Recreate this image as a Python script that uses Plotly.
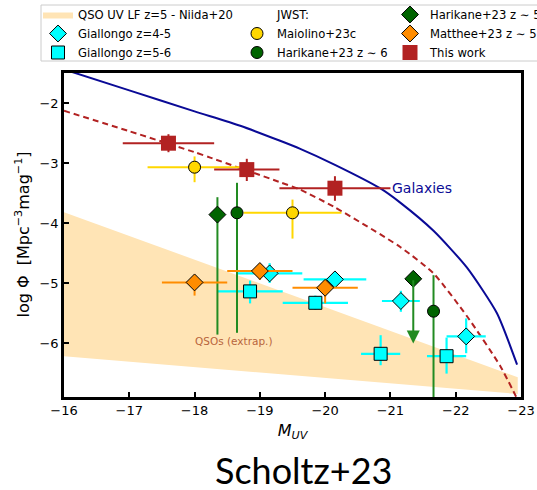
import plotly.graph_objects as go

# ---- Data -------------------------------------------------------------
# QSO UV LF band (Niida+20), upper and lower edges
band_M = [-16.0, -22.95]
band_upper = [-3.82, -6.57]
band_lower = [-6.22, -6.85]

# Galaxy UV luminosity function (solid curve)
gal_M = [-16.0, -17.0, -18.0, -18.7, -19.31, -19.61, -20.15, -20.84, -21.15,
         -21.66, -22.17, -22.63, -22.94]
gal_phi = [-1.44, -1.79, -2.14, -2.38, -2.63, -2.76, -3.03, -3.42, -3.66,
           -4.13, -4.74, -5.50, -6.36]

# Extrapolated QSO / AGN curve (dashed)
qso_M = [-16.0, -17.0, -18.0, -18.24, -19.31, -19.61, -20.15, -21.15, -21.66,
         -22.17, -22.68, -22.95]
qso_phi = [-2.13, -2.47, -2.82, -2.91, -3.32, -3.44, -3.74, -4.40, -4.84,
           -5.55, -6.38, -6.95]

# Giallongo z=4-5
g45_M = [-19.15, -20.15, -21.16, -22.16]
g45_phi = [-4.84, -4.94, -5.30, -5.89]
g45_xerr = [0.5, 0.48, 0.29, 0.3]
g45_yerr_up = [0.17, 0.12, 0.17, 0.30]
g45_yerr_dn = [0.16, 0.12, 0.18, 0.28]

# Giallongo z=5-6
g56_M = [-18.85, -19.85, -20.85, -21.86]
g56_phi = [-5.14, -5.33, -6.18, -6.22]
g56_xerr = [0.5, 0.5, 0.3, 0.3]
g56_yerr_up = [0.18, 0.12, 0.31, 0.31]
g56_yerr_dn = [0.20, 0.12, 0.19, 0.29]

# Maiolino+23c
mai_M = [-18.0, -19.5]
mai_phi = [-3.07, -3.83]
mai_xerr = [0.72, 0.75]
mai_yerr_up = [0.18, 0.22]
mai_yerr_dn = [0.25, 0.43]

# Harikane+23 z~6
h6_M = [-18.65, -21.66]
h6_phi = [-3.83, -5.47]
h6_yerr_up = [0.50, 0.60]
h6_yerr_dn = [2.00, 2.00]

# Harikane+23 z~5 (second point is an upper limit)
h5_M = [-18.35, -21.35]
h5_phi = [-3.86, -4.93]
h5_yerr_up = [0.29, 0.0]
h5_yerr_dn = [2.00, 0.0]
h5_limit_M = [-21.35]
h5_limit_phi = [-4.93]
h5_limit_tip = [-6.01]

# Matthee+23 z~5
mat_M = [-18.0, -19.0, -20.0]
mat_phi = [-4.99, -4.80, -5.08]
mat_xerr = [0.5, 0.5, 0.5]
mat_yerr_up = [0.12, 0.10, 0.12]
mat_yerr_dn = [0.22, 0.15, 0.26]

# This work
tw_M = [-17.6, -18.8, -20.15]
tw_phi = [-2.67, -3.11, -3.42]
tw_xerr_plus = [0.7, 0.5, 0.85]
tw_xerr_minus = [0.7, 0.5, 0.85]
tw_yerr_up = [0.15, 0.18, 0.20]
tw_yerr_dn = [0.15, 0.19, 0.21]

FONT = "DejaVu Sans"
W, H = 537, 490
ML, MR, MT, MB = 64, 16, 73, 93
PW, PH = W - ML - MR, H - MT - MB


def px_to_paper(px, py):
    """Pixel position on the page -> paper coordinates of the plot area."""
    return (px - ML) / PW, (H - MB - py) / PH


fig = go.Figure()

# QSO band
fig.add_trace(go.Scatter(
    x=band_M + band_M[::-1], y=band_upper + band_lower[::-1],
    fill="toself", fillcolor="#FFE4B5", mode="lines",
    line=dict(width=0, color="#FFE4B5"),
    name="QSO UV LF z=5 - Niida+20", legend="legend", hoverinfo="skip"))

# Model curves
fig.add_trace(go.Scatter(
    x=gal_M, y=gal_phi, mode="lines",
    line=dict(color="#0a0a96", width=2, shape="spline", smoothing=0.6),
    showlegend=False))
fig.add_trace(go.Scatter(
    x=qso_M, y=qso_phi, mode="lines",
    line=dict(color="#B22222", width=2, dash="6px,4px", shape="spline", smoothing=0.6),
    showlegend=False))


def err(plus, minus, color, thick):
    return dict(type="data", symmetric=False, array=plus, arrayminus=minus,
                color=color, thickness=thick, width=0)


edge = dict(color="black", width=1)

# Giallongo z=4-5
fig.add_trace(go.Scatter(
    x=g45_M, y=g45_phi, mode="markers", name="Giallongo z=4-5", legend="legend",
    marker=dict(symbol="diamond", size=13, color="#00FFFF", line=edge),
    error_x=err(g45_xerr, g45_xerr, "#00FFFF", 2.2),
    error_y=err(g45_yerr_up, g45_yerr_dn, "#00FFFF", 2.2)))

# Giallongo z=5-6
fig.add_trace(go.Scatter(
    x=g56_M, y=g56_phi, mode="markers", name="Giallongo z=5-6", legend="legend",
    marker=dict(symbol="square", size=13, color="#00FFFF", line=edge),
    error_x=err(g56_xerr, g56_xerr, "#00FFFF", 2.2),
    error_y=err(g56_yerr_up, g56_yerr_dn, "#00FFFF", 2.2)))

# Heading entry for the JWST column
fig.add_trace(go.Scatter(
    x=[None], y=[None], mode="markers", name="JWST:", legend="legend2",
    marker=dict(size=1, color="rgba(0,0,0,0)", line=dict(width=0))))

# Maiolino+23c
fig.add_trace(go.Scatter(
    x=mai_M, y=mai_phi, mode="markers", name="Maiolino+23c", legend="legend2",
    marker=dict(symbol="circle", size=12, color="#FFD700", line=edge),
    error_x=err(mai_xerr, mai_xerr, "#FFD700", 2),
    error_y=err(mai_yerr_up, mai_yerr_dn, "#FFD700", 2)))

# Harikane+23 z~6
fig.add_trace(go.Scatter(
    x=h6_M, y=h6_phi, mode="markers", name="Harikane+23 z ∼ 6", legend="legend2",
    marker=dict(symbol="circle", size=12, color="#006400", line=edge),
    error_y=err(h6_yerr_up, h6_yerr_dn, "#228B22", 2)))

# Harikane+23 z~5
fig.add_trace(go.Scatter(
    x=h5_M, y=h5_phi, mode="markers", name="Harikane+23 z ∼ 5", legend="legend3",
    marker=dict(symbol="diamond", size=13, color="#006400", line=edge),
    error_y=err(h5_yerr_up, h5_yerr_dn, "#228B22", 2)))

# Matthee+23 z~5
fig.add_trace(go.Scatter(
    x=mat_M, y=mat_phi, mode="markers", name="Matthee+23 z ∼ 5", legend="legend3",
    marker=dict(symbol="diamond", size=13, color="#FF8C00", line=edge),
    error_x=err(mat_xerr, mat_xerr, "#FF8C00", 2),
    error_y=err(mat_yerr_up, mat_yerr_dn, "#FF8C00", 2)))

# This work
fig.add_trace(go.Scatter(
    x=tw_M, y=tw_phi, mode="markers", name="This work", legend="legend3",
    marker=dict(symbol="square", size=15, color="#B22222", line=dict(width=0)),
    error_x=err(tw_xerr_plus, tw_xerr_minus, "#B22222", 2),
    error_y=err(tw_yerr_up, tw_yerr_dn, "#B22222", 2)))

# Upper-limit arrow for Harikane+23 z~5
for mx, y0, y1 in zip(h5_limit_M, h5_limit_phi, h5_limit_tip):
    fig.add_annotation(x=mx, y=y1, ax=mx, ay=y0, xref="x", yref="y",
                       axref="x", ayref="y", text="", showarrow=True,
                       arrowhead=2, arrowsize=1.3, arrowwidth=2,
                       arrowcolor="#228B22")

# Curve labels
fig.add_annotation(x=-21.0, y=-3.42, text="Galaxies", showarrow=False,
                   xanchor="left", yanchor="middle",
                   font=dict(family=FONT, size=14, color="#0a0a96"))
fig.add_annotation(x=-18.6, y=-5.96, text="QSOs (extrap.)", showarrow=False,
                   xanchor="center", yanchor="middle",
                   font=dict(family=FONT, size=10.5, color="#B8643C"))

# Y-axis label, set beside the tick labels
tx, ty = px_to_paper(23, 234.5)
fig.add_annotation(x=tx, y=ty, xref="paper", yref="paper", textangle=-90,
                   text="log Φ  [Mpc<sup>−3</sup>mag<sup>−1</sup>]", showarrow=False,
                   xanchor="center", yanchor="middle",
                   font=dict(family=FONT, size=16, color="black"))

# Caption under the figure
cx, cy = px_to_paper(303, 470)
fig.add_annotation(x=cx, y=cy, xref="paper", yref="paper",
                   text="Scholtz+23", showarrow=False,
                   xanchor="center", yanchor="middle",
                   font=dict(family="Lato", size=36, color="black"))

# Legend frame around the three columns
bx0, by0 = px_to_paper(41, 61)
bx1, by1 = px_to_paper(548, 5)
fig.add_shape(type="rect", xref="paper", yref="paper",
              x0=bx0, x1=bx1, y0=by0, y1=by1,
              line=dict(color="#cccccc", width=1), fillcolor="white", layer="below")

leg_common = dict(xref="container", yref="container", xanchor="left", yanchor="top",
                  bgcolor="rgba(0,0,0,0)", borderwidth=0,
                  font=dict(family=FONT, size=11.6, color="black"),
                  itemclick=False, tracegroupgap=0)

axis_common = dict(showline=True, linecolor="black", linewidth=2.5, mirror=True,
                   ticks="inside", ticklen=5, tickwidth=1.5, tickcolor="black",
                   showgrid=False, zeroline=False,
                   tickfont=dict(family=FONT, size=13, color="black"))

fig.update_layout(
    width=W, height=H,
    margin=dict(l=ML, r=MR, t=MT, b=MB, autoexpand=False),
    paper_bgcolor="white", plot_bgcolor="white",
    font=dict(family=FONT, color="black"),
    legend=dict(x=38 / W, y=1.0, **leg_common),
    legend2=dict(x=237 / W, y=1.0, **leg_common),
    legend3=dict(x=390 / W, y=1.0, **leg_common),
    xaxis=dict(range=[-16, -23], tickmode="array",
               tickvals=[-16, -17, -18, -19, -20, -21, -22, -23],
               title=dict(text="<i>M</i><sub><i>UV</i></sub>", standoff=8,
                          font=dict(family=FONT, size=16)),
               **axis_common),
    yaxis=dict(range=[-6.9, -1.5], tickmode="array",
               tickvals=[-2, -3, -4, -5, -6],
               **axis_common),
)

fig.write_html("out.html")
